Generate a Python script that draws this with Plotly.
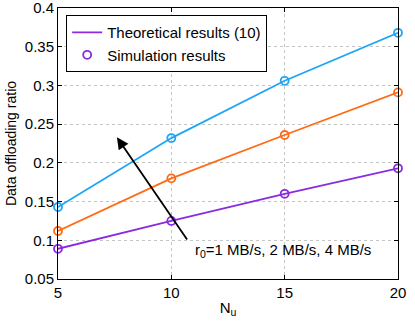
import plotly.graph_objects as go

nu = [5, 10, 15, 20]
series_names = ["r0=1 MB/s", "r0=2 MB/s", "r0=4 MB/s"]
theory = [
    [0.089, 0.125, 0.160, 0.193],
    [0.112, 0.180, 0.236, 0.291],
    [0.143, 0.232, 0.306, 0.368],
]
simulation = [
    [0.089, 0.125, 0.160, 0.193],
    [0.112, 0.180, 0.236, 0.291],
    [0.143, 0.232, 0.306, 0.368],
]
colors = ["#8A2BE2", "#FF6A13", "#1EA5F5"]
yticks = [0.05, 0.1, 0.15, 0.2, 0.25, 0.3, 0.35, 0.4]
ytick_text = ["0.05", "0.1", "0.15", "0.2", "0.25", "0.3", "0.35", "0.4"]
xticks = [5, 10, 15, 20]

fig = go.Figure()
for i in range(3):
    fig.add_trace(go.Scatter(x=nu, y=theory[i], mode="lines",
                             line=dict(color=colors[i], width=1.8),
                             name="Theoretical results (10)", showlegend=(i == 0),
                             legendrank=1, cliponaxis=False))
for i in range(3):
    fig.add_trace(go.Scatter(x=nu, y=simulation[i], mode="markers",
                             marker=dict(symbol="circle-open", color=colors[i], size=8,
                                         line=dict(width=1.8, color=colors[i])),
                             name="Simulation results", showlegend=(i == 0),
                             legendrank=2, cliponaxis=False))

axis_common = dict(showline=True, linecolor="black", linewidth=1, mirror="allticks",
                   ticks="inside", ticklen=4, tickcolor="black",
                   showgrid=True, gridcolor="#c4c4c4", griddash="dot", gridwidth=1,
                   zeroline=False, tickfont=dict(size=15, color="black"),
                   automargin=False, ticklabeloverflow="allow")

fig.update_xaxes(range=[5, 20], tickvals=xticks,
                 title=dict(text="N<sub>u</sub>", font=dict(size=15, color="black"), standoff=2),
                 **axis_common)
fig.update_yaxes(range=[0.05, 0.4], tickvals=yticks, ticktext=ytick_text,
                 title=dict(text="Data offloading ratio", font=dict(size=14, color="black"), standoff=4),
                 **axis_common)

fig.add_annotation(x=7.6, y=0.233, ax=10.74, ay=0.099, xref="x", yref="y",
                   axref="x", ayref="y", text="", showarrow=True,
                   arrowhead=2, arrowsize=1.3, arrowwidth=1.8, arrowcolor="black")
fig.add_annotation(x=10.96, y=0.087, xref="x", yref="y", xanchor="left", yanchor="middle",
                   text="r<sub>0</sub>=1 MB/s, 2 MB/s, 4 MB/s", showarrow=False,
                   font=dict(size=15, color="black"))

fig.update_layout(width=415, height=324,
                  margin=dict(l=58, r=17, t=8, b=45),
                  plot_bgcolor="white", paper_bgcolor="white",
                  font=dict(family="Liberation Sans, Arial, sans-serif", color="black"),
                  legend=dict(x=0.024, y=0.974, xanchor="left", yanchor="top",
                              bgcolor="white", bordercolor="black", borderwidth=1,
                              font=dict(size=15, color="black"),
                              tracegroupgap=0, itemwidth=30),
                  showlegend=True)

fig.write_html("out.html", config={"displayModeBar": False},
               post_script="document.body.style.margin='0';")
